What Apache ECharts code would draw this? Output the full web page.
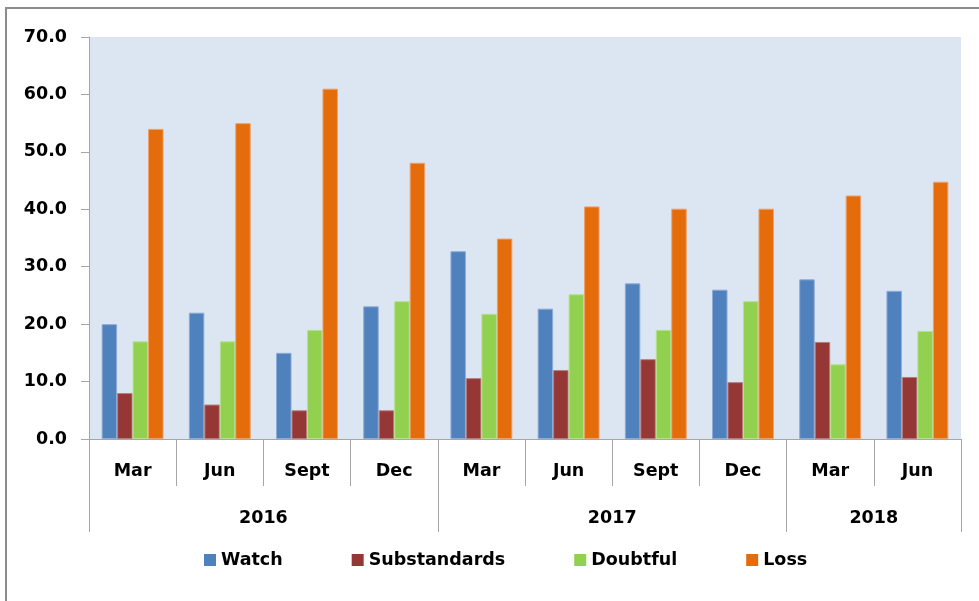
<!DOCTYPE html>
<html>
<head>
<meta charset="utf-8">
<script src="https://cdn.jsdelivr.net/npm/echarts@6/dist/echarts.min.js"></script>
<style>html,body{margin:0;padding:0;background:#fff;}#c{width:979px;height:601px;}</style>
</head>
<body>
<div id="c"></div>
<script>
const months = ['Mar','Jun','Sept','Dec','Mar','Jun','Sept','Dec','Mar','Jun'];
const yearLabels = ['2016','2017','2018'];
const yearCenters = [2, 6, 9];
const yearBounds = [0, 4, 8, 10];
const yTicks = [0, 10, 20, 30, 40, 50, 60, 70];
const watch = [20.0, 22.0, 15.0, 23.1, 32.7, 22.7, 27.1, 26.0, 27.8, 25.8];
const substandards = [8.0, 6.0, 5.0, 5.0, 10.6, 12.0, 13.9, 9.9, 16.9, 10.8];
const doubtful = [17.0, 17.0, 19.0, 24.0, 21.8, 25.2, 19.0, 24.0, 13.0, 18.8];
const loss = [54.0, 55.0, 61.0, 48.1, 34.9, 40.5, 40.1, 40.1, 42.4, 44.8];

const chart = echarts.init(document.getElementById('c'), null, {renderer: 'canvas'});
const font = 'DejaVu Sans';
function bar(name, data, color, border) {
  return {
    name: name, type: 'bar', data: data, xAxisIndex: 0, yAxisIndex: 0,
    barGap: '0%', barCategoryGap: '29%',
    itemStyle: {color: color, borderColor: border, borderWidth: 1},
    emphasis: {disabled: true}
  };
}
chart.setOption({
  animation: false,
  graphic: [{
    type: 'polyline', shape: {points: [[6, 700], [6, 8], [1100, 8]]},
    style: {stroke: '#8C8C8C', lineWidth: 2, fill: null}, silent: true
  }],
  grid: {left: 89, right: 18, top: 37, bottom: 162, show: true, backgroundColor: '#DCE6F2', borderWidth: 0},
  legend: {
    left: 199, top: 546, itemWidth: 12, itemHeight: 12, itemGap: 69,
    icon: 'rect',
    itemStyle: {borderWidth: 0},
    textStyle: {fontFamily: font, fontWeight: 'bold', fontSize: 17.5, color: '#000', padding: [0, 0, 0, 0]},
    data: ['Watch', 'Substandards', 'Doubtful', 'Loss']
  },
  xAxis: [{
    type: 'category', data: months, position: 'bottom',
    axisLine: {lineStyle: {color: '#A6A6A6', width: 1}},
    axisTick: {show: true, interval: 0, length: 47, lineStyle: {color: '#A6A6A6'}},
    axisLabel: {interval: 0, margin: 23, fontFamily: font, fontWeight: 'bold', fontSize: 17.5, color: '#000'},
    splitLine: {show: false}
  }, {
    type: 'value', min: 0, max: 10, position: 'bottom', offset: 47, gridIndex: 0,
    axisLine: {show: false},
    axisTick: {show: true, customValues: yearBounds, length: 46, lineStyle: {color: '#A6A6A6'}},
    axisLabel: {
      customValues: yearCenters, margin: 23, fontFamily: font, fontWeight: 'bold', fontSize: 17.5, color: '#000',
      formatter: function (v) { const i = yearCenters.indexOf(v); return i >= 0 ? yearLabels[i] : ''; }
    },
    splitLine: {show: false}
  }],
  yAxis: {
    type: 'value', min: 0, max: 70, interval: 10,
    axisLine: {show: true, lineStyle: {color: '#A6A6A6'}},
    axisTick: {show: true, length: 8, lineStyle: {color: '#A6A6A6'}},
    axisLabel: {
      margin: 22, fontFamily: font, fontWeight: 'bold', fontSize: 17.5, color: '#000',
      customValues: yTicks,
      formatter: function (v) { return v.toFixed(1); }
    },
    splitLine: {show: false}
  },
  series: [
    bar('Watch', watch, '#4F81BD', '#8EAAD6'),
    bar('Substandards', substandards, '#953735', '#B77C7B'),
    bar('Doubtful', doubtful, '#92D050', '#B6E08E'),
    bar('Loss', loss, '#E46C0A', '#EDA06A')
  ]
});
</script>
</body>
</html>
